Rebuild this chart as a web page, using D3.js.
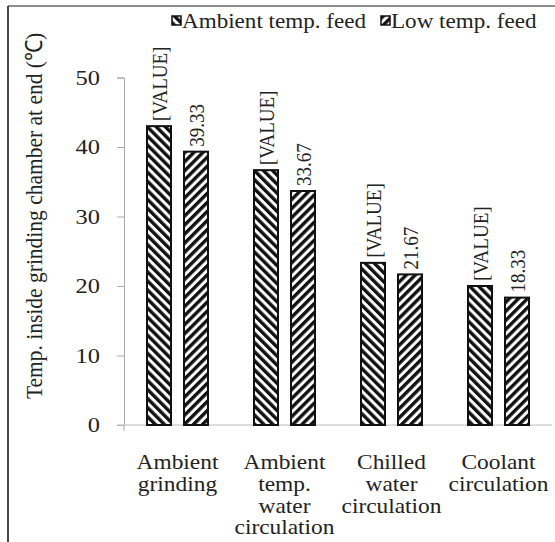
<!DOCTYPE html>
<html>
<head>
<meta charset="utf-8">
<script src="https://cdn.jsdelivr.net/npm/d3@7"></script>
<style>
  html, body { margin: 0; padding: 0; background: #fff; }
  svg { display: block; }
</style>
</head>
<body>
<div id="chart"></div>
<script>
// Temperature inside grinding chamber at the end of grinding
const categories = [
  ["Ambient", "grinding"],
  ["Ambient", "temp.", "water", "circulation"],
  ["Chilled", "water", "circulation"],
  ["Coolant", "circulation"]
];
const seriesNames = ["Ambient temp. feed", "Low temp. feed"];
const ambientFeed = [43.0, 36.67, 23.33, 20.0];
const lowFeed = [39.33, 33.67, 21.67, 18.33];
const ambientLabels = ["[VALUE]", "[VALUE]", "[VALUE]", "[VALUE]"];
const lowLabels = ["39.33", "33.67", "21.67", "18.33"];
const yTicks = [0, 10, 20, 30, 40, 50];
const yTitle = "Temp. inside grinding chamber at end (\u2103)";

const W = 555, H = 542;
const margin = { left: 124, right: 3, top: 77.5, bottom: 117 };
const FONT = "Liberation Serif";
const INK = "#222";
const SX = 1.17;   // slightly wide lettering

const svg = d3.select("#chart").append("svg")
  .attr("width", W).attr("height", H)
  .attr("font-family", FONT);

// hatch fills: "\" for ambient feed, "/" for low temperature feed
const defs = svg.append("defs");
function hatch(id, angle) {
  const p = defs.append("pattern")
    .attr("id", id)
    .attr("patternUnits", "userSpaceOnUse")
    .attr("width", 6.4).attr("height", 6.4)
    .attr("patternTransform", `rotate(${angle})`);
  p.append("rect").attr("width", 6.4).attr("height", 6.4).attr("fill", "#fff");
  p.append("rect").attr("width", 3.4).attr("height", 6.4).attr("fill", "#111");
}
hatch("hatchA", -45);
hatch("hatchB", 45);
const fills = ["url(#hatchA)", "url(#hatchB)"];

// outer frame (top and left edges)
svg.append("line").attr("x1", 8).attr("x2", W).attr("y1", 6).attr("y2", 6)
  .attr("stroke", "#666").attr("stroke-width", 1.5);
svg.append("line").attr("x1", 8).attr("x2", 8).attr("y1", 6).attr("y2", H)
  .attr("stroke", "#333").attr("stroke-width", 1.8);

const x0 = d3.scaleBand()
  .domain(d3.range(categories.length))
  .range([margin.left, W - margin.right]);
const y = d3.scaleLinear().domain([0, 50]).range([H - margin.bottom, margin.top]);

const barW = 24, barGap = 13;

// y axis
const yAxis = svg.append("g")
  .attr("transform", `translate(${margin.left},0)`)
  .call(d3.axisLeft(y).tickValues(yTicks).tickSize(7).tickFormat(d3.format("d")));
yAxis.attr("font-family", FONT).attr("font-size", 20);
yAxis.select(".domain").attr("stroke", "#aaa");
yAxis.selectAll(".tick line").attr("stroke", "#aaa");
yAxis.selectAll(".tick text")
  .attr("x", 0)
  .attr("dy", "0.34em")
  .attr("transform", `translate(-24,0) scale(1.22,1)`)
  .attr("fill", INK);

// x axis baseline
svg.append("line")
  .attr("x1", margin.left - 7).attr("x2", W - margin.right)
  .attr("y1", y(0)).attr("y2", y(0))
  .attr("stroke", "#bbb").attr("stroke-width", 1);
svg.append("line")
  .attr("x1", margin.left).attr("x2", margin.left)
  .attr("y1", y(0)).attr("y2", y(0) + 6)
  .attr("stroke", "#aaa");

// y axis title
svg.append("text")
  .attr("transform", `translate(42,216) scale(1.1,1) rotate(-90)`)
  .attr("text-anchor", "middle")
  .attr("font-size", 21.5)
  .attr("fill", INK)
  .text(yTitle);

// bars
const series = [ambientFeed, lowFeed];
const labels = [ambientLabels, lowLabels];
series.forEach((vals, s) => {
  const g = svg.append("g");
  const cx = i => x0(i) + x0.bandwidth() / 2 + (s === 0 ? -(barW + barGap) / 2 : (barW + barGap) / 2);
  g.selectAll("rect").data(vals).join("rect")
    .attr("x", (d, i) => cx(i) - barW / 2)
    .attr("width", barW)
    .attr("y", d => y(d))
    .attr("height", d => y(0) - y(d))
    .attr("fill", fills[s])
    .attr("stroke", "#111")
    .attr("stroke-width", 2);
  g.selectAll("text").data(vals).join("text")
    .attr("transform", (d, i) => `translate(${cx(i) + 1},${y(d) - 5}) scale(1.15,1) rotate(-90)`)
    .attr("text-anchor", "start")
    .attr("dy", "0.33em")
    .attr("font-size", 19)
    .attr("fill", INK)
    .text((d, i) => labels[s][i]);
});

// category labels
categories.forEach((lines, i) => {
  const t = svg.append("text")
    .attr("transform", `translate(${x0(i) + x0.bandwidth() / 2},${469}) scale(${SX},1)`)
    .attr("text-anchor", "middle")
    .attr("font-size", 20)
    .attr("fill", INK);
  lines.forEach((ln, k) => {
    t.append("tspan")
      .attr("x", 0)
      .attr("dy", k === 0 ? 0 : 21.8)
      .text(ln);
  });
});

// legend
const legendX = [172, 381];
seriesNames.forEach((name, s) => {
  const g = svg.append("g").attr("transform", `translate(${legendX[s]},16)`);
  g.append("rect").attr("width", 9).attr("height", 9)
    .attr("fill", fills[s]).attr("stroke", "#111").attr("stroke-width", 1.5);
  g.append("text")
    .attr("transform", `translate(10,11.5) scale(1.1,1)`)
    .attr("font-size", 21).attr("fill", INK).text(name);
});
</script>
</body>
</html>
